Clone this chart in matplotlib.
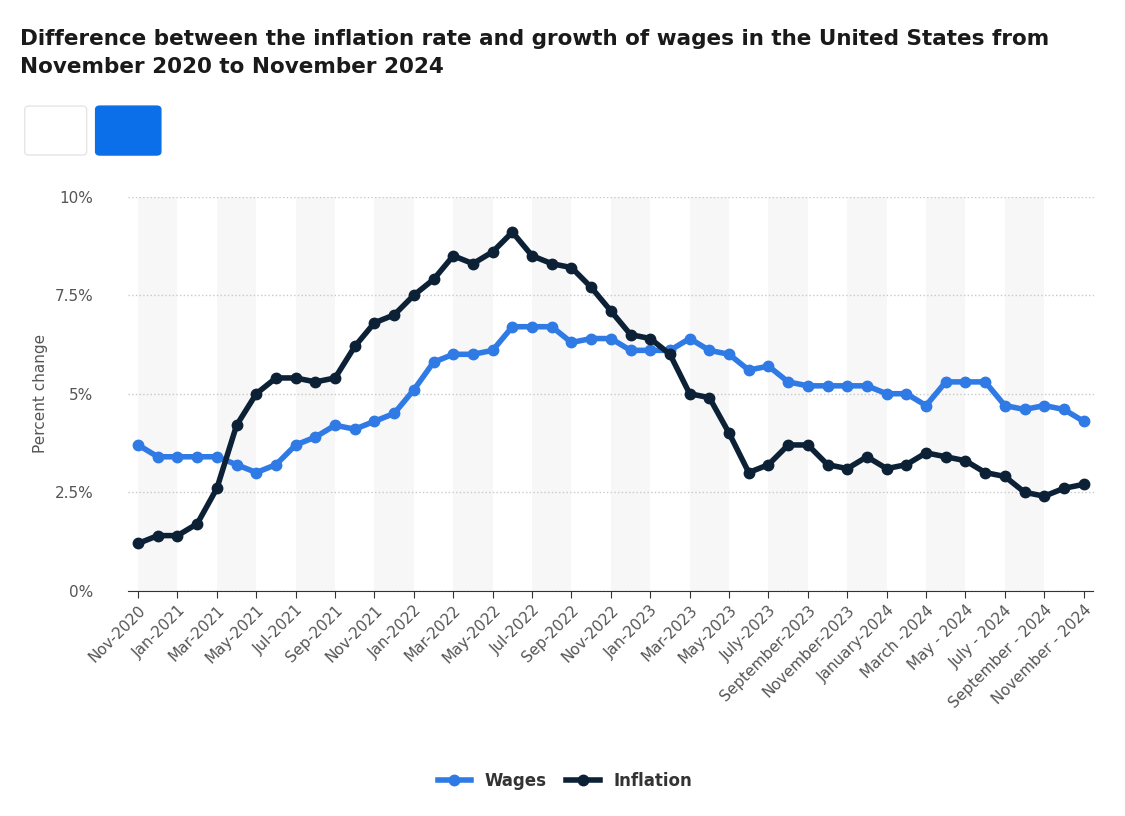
import matplotlib.pyplot as plt
import numpy as np
from matplotlib.lines import Line2D
from matplotlib.patches import FancyBboxPatch

labels = ["Nov-2020","Jan-2021","Mar-2021","May-2021","Jul-2021","Sep-2021","Nov-2021","Jan-2022",
          "Mar-2022","May-2022","Jul-2022","Sep-2022","Nov-2022","Jan-2023","Mar-2023","May-2023",
          "July-2023","September-2023","November-2023","January-2024","March -2024","May - 2024",
          "July - 2024","September - 2024","November - 2024"]
wages = [3.7,3.4,3.4,3.4,3.4,3.2,3.0,3.2,3.7,3.9,4.2,4.1,4.3,4.5,5.1,5.8,6.0,6.0,6.1,6.7,6.7,6.7,6.3,6.4,
         6.4,6.1,6.1,6.1,6.4,6.1,6.0,5.6,5.7,5.3,5.2,5.2,5.2,5.2,5.0,5.0,4.7,5.3,5.3,5.3,4.7,4.6,4.7,4.6,4.3]
inflation = [1.2,1.4,1.4,1.7,2.6,4.2,5.0,5.4,5.4,5.3,5.4,6.2,6.8,7.0,7.5,7.9,8.5,8.3,8.6,9.1,8.5,8.3,8.2,7.7,
             7.1,6.5,6.4,6.0,5.0,4.9,4.0,3.0,3.2,3.7,3.7,3.2,3.1,3.4,3.1,3.2,3.5,3.4,3.3,3.0,2.9,2.5,2.4,2.6,2.7]

fig = plt.figure(figsize=(11.25, 8.16), dpi=100)
ax = fig.add_axes([0.114, 0.276, 0.858, 0.483])
x = np.arange(len(wages))
for s in range(0, len(wages) - 1, 4):
    ax.axvspan(s, s+2, color='#f7f7f7', zorder=0, lw=0)
ax.plot(x, wages, color='#2f7ae5', lw=4, marker='o', ms=7.5, zorder=3)
ax.plot(x, inflation, color='#0d2136', lw=4, marker='o', ms=7.5, zorder=4)
ax.set_xlim(-0.5, 48.5)
ax.set_ylim(0, 10)
ax.set_yticks([0, 2.5, 5, 7.5, 10])
ax.set_yticklabels(["0%", "2.5%", "5%", "7.5%", "10%"], color='#555', fontsize=11)
ax.set_xticks(np.arange(0, 49, 2))
ax.set_xticklabels(labels, rotation=45, ha='right', rotation_mode='anchor', color='#555', fontsize=11)
ax.grid(axis='y', color='#c8c8c8', ls=':', lw=1)
for sp in ['top', 'right', 'left']:
    ax.spines[sp].set_visible(False)
ax.spines['bottom'].set_color('#333')
ax.tick_params(axis='y', length=0, pad=25)
ax.tick_params(axis='x', length=5, color='#333')
ax.set_ylabel("Percent change", color='#555', fontsize=11, labelpad=5)

fig.text(0.018, 0.965, "Difference between the inflation rate and growth of wages in the United States from\nNovember 2020 to November 2024",
         fontsize=15.5, fontweight='bold', color='#1a1a1a', va='top', linespacing=1.55)
fig.patches.append(FancyBboxPatch((0.022, 0.81), 0.055, 0.06, boxstyle='round,pad=0,rounding_size=0.004',
                                  transform=fig.transFigure, fc='white', ec='#e5e5e5'))
fig.patches.append(FancyBboxPatch((0.085, 0.81), 0.058, 0.06, boxstyle='round,pad=0,rounding_size=0.004',
                                  transform=fig.transFigure, fc='#0a6fe8', ec='#0a6fe8'))
handles = [Line2D([], [], color='#2f7ae5', lw=4, marker='o', ms=7.5),
           Line2D([], [], color='#0d2136', lw=4, marker='o', ms=7.5)]
leg = fig.legend(handles, ["Wages", "Inflation"], loc='center', bbox_to_anchor=(0.502, 0.043), ncol=2,
                 frameon=False, prop={'weight': 'bold', 'size': 12}, handlelength=2, columnspacing=1.2)
for t in leg.get_texts():
    t.set_color('#333')
fig.savefig("out.png", dpi=100, facecolor='white')
